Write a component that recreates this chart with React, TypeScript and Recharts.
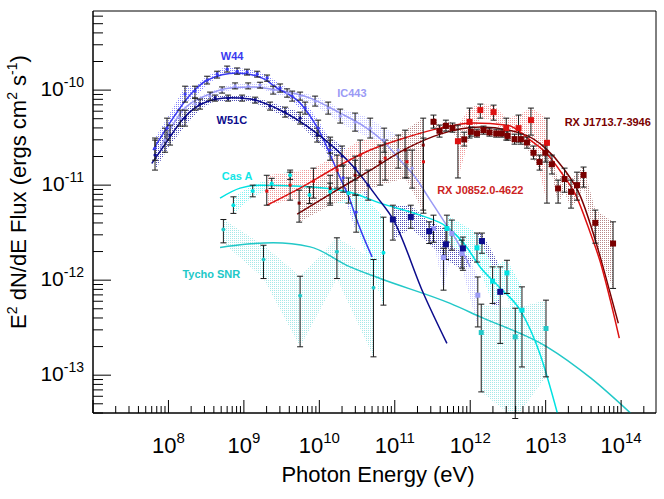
import React from "react";
import { ComposedChart, XAxis, YAxis, Line, Area, Scatter, ErrorBar, ReferenceDot, ReferenceArea, Label } from "recharts";

type Pt = [number, number, number, number]; // energy, flux, low, high
type Cv = [number, number]; // energy, flux

// ---- W44 ----
const W44_MODEL: Cv[] = [
  [6.25e7, 2.34e-11], [1.15e8, 5.07e-11], [1.93e8, 8.86e-11], [3.25e8, 1.27e-10], [8.13e8, 1.51e-10],
  [1.64e9, 1.37e-10], [2.76e9, 1.05e-10], [5.56e9, 7.3e-11], [1.03e10, 3.52e-11], [1.89e10, 1.19e-11],
  [2.56e10, 6.95e-12], [2.98e10, 4.83e-12], [5.01e10, 1.75e-12],
];
const W44_FERMI: Pt[] = [
  [6.64e7, 2.45e-11, 1.83e-11, 3.13e-11], [9.58e7, 3.98e-11, 2.98e-11, 5.07e-11], [1.66e8, 9.08e-11, 7.48e-11, 1.1e-10],
  [2.25e8, 9.76e-11, 8.24e-11, 1.1e-10], [3.25e8, 1.27e-10, 1.16e-10, 1.4e-10], [4.42e8, 1.47e-10, 1.34e-10, 1.58e-10],
  [5.99e8, 1.66e-10, 1.55e-10, 1.79e-10], [8.13e8, 1.58e-10, 1.47e-10, 1.71e-10], [1.1e9, 1.55e-10, 1.44e-10, 1.66e-10],
  [1.5e9, 1.47e-10, 1.37e-10, 1.58e-10], [2.03e9, 1.34e-10, 1.24e-10, 1.44e-10], [3.02e9, 1.05e-10, 9.53e-11, 1.16e-10],
  [4.36e9, 8.65e-11, 7.66e-11, 9.76e-11], [6.48e9, 6.47e-11, 5.59e-11, 7.48e-11], [9.64e9, 3.98e-11, 3.28e-11, 4.83e-11],
  [1.39e10, 2.34e-11, 1.83e-11, 2.98e-11], [2.07e10, 1.19e-11, 8.43e-12, 1.63e-11], [3.08e10, 5.2e-12, 3.2e-12, 7.85e-12],
];

// ---- W51C ----
const W51C_MODEL: Cv[] = [
  [6.01e7, 1.69e-11], [9.49e7, 2.86e-11], [1.58e8, 5.04e-11], [3.22e8, 7.53e-11], [6.56e8, 8.3e-11],
  [1.21e9, 8.04e-11], [2.73e9, 6.41e-11], [9.27e9, 3.5e-11], [2.83e10, 1.56e-11], [5.79e10, 7.53e-12],
  [9.62e10, 4.29e-12], [2.4e11, 7.24e-13], [4.91e11, 2.16e-13],
];
const W51C_FERMI: Pt[] = [
  [6.64e7, 2.07e-11, 1.44e-11, 2.98e-11], [1.05e8, 3.36e-11, 2.64e-11, 4.28e-11], [1.66e8, 5.07e-11, 4.18e-11, 6.16e-11],
  [2.62e8, 7.13e-11, 6.31e-11, 8.04e-11], [4.15e8, 8.3e-11, 7.66e-11, 8.86e-11], [6.17e8, 8.2e-11, 7.66e-11, 8.86e-11],
  [9.46e8, 8.3e-11, 7.66e-11, 8.86e-11], [1.41e9, 7.85e-11, 7.3e-11, 8.43e-11], [2.22e9, 6.79e-11, 6.16e-11, 7.48e-11],
  [3.52e9, 5.86e-11, 5.2e-11, 6.62e-11], [5.56e9, 5.07e-11, 4.39e-11, 5.86e-11], [9.35e9, 3.36e-11, 2.84e-11, 3.98e-11],
  [1.39e10, 2.64e-11, 2.17e-11, 3.2e-11], [2.0e10, 2.02e-11, 1.58e-11, 2.58e-11], [2.98e10, 1.51e-11, 1.13e-11, 2.02e-11],
  [4.44e10, 1.0e-11, 6.95e-12, 1.44e-11],
];
const W51C_TEV: Pt[] = [
  [9.44e10, 4.35e-12, 2.64e-12, 6.15e-12], [1.63e11, 4.63e-12, 3.52e-12, 6.15e-12], [2.86e11, 3.28e-12, 2.43e-12, 4.11e-12],
  [4.76e11, 2.38e-12, 1.65e-12, 3.52e-12], [8.0e11, 2.16e-12, 1.27e-12, 2.84e-12], [1.43e12, 2.58e-12, 1.92e-12, 3.13e-12],
  [2.5e12, 7.53e-13, 2.16e-13, 1.38e-12],
];

// ---- IC443 ----
const IC443_MODEL: Cv[] = [
  [7.74e7, 2.45e-11], [1.56e8, 6.16e-11], [3.25e8, 8.86e-11], [6.56e8, 1.05e-10], [1.33e9, 1.08e-10],
  [2.76e9, 1.0e-10], [7.55e9, 8.24e-11], [1.89e10, 5.73e-11], [4.05e10, 4.08e-11], [7.46e10, 2.77e-11],
  [1.18e11, 1.83e-11], [1.87e11, 1.21e-11], [2.95e11, 6.95e-12], [4.39e11, 4.29e-12], [6.93e11, 2.45e-12],
  [1.0e12, 1.37e-12],
];
const IC443_FERMI: Pt[] = [
  [9.02e7, 2.98e-11, 2.22e-11, 3.98e-11], [1.43e8, 5.07e-11, 4.18e-11, 6.16e-11], [2.25e8, 7.13e-11, 6.16e-11, 8.24e-11],
  [3.56e8, 8.65e-11, 7.85e-11, 9.53e-11], [5.14e8, 1.0e-10, 9.3e-11, 1.08e-10], [7.64e8, 1.1e-10, 1.03e-10, 1.19e-10],
  [1.14e9, 1.1e-10, 1.03e-10, 1.19e-10], [1.64e9, 1.13e-10, 1.05e-10, 1.21e-10], [2.44e9, 1.0e-10, 9.08e-11, 1.1e-10],
  [3.74e9, 9.3e-11, 8.43e-11, 1.03e-10], [5.56e9, 8.65e-11, 7.85e-11, 9.53e-11], [8.79e9, 7.66e-11, 6.79e-11, 8.65e-11],
  [1.31e10, 6.47e-11, 5.59e-11, 7.48e-11], [1.89e10, 5.32e-11, 4.5e-11, 6.31e-11], [2.98e10, 4.6e-11, 3.7e-11, 5.73e-11],
  [4.72e10, 3.98e-11, 3.13e-11, 5.07e-11], [7.23e10, 2.98e-11, 2.22e-11, 3.98e-11], [1.11e11, 2.34e-11, 1.51e-11, 3.36e-11],
  [1.7e11, 1.51e-11, 9.3e-12, 2.34e-11],
];
const IC443_TEV: Pt[] = [
  [3.26e11, 3.5e-12, 2.51e-12, 4.83e-12], [4.43e11, 1.73e-12, 7.85e-13, 2.17e-12], [5.71e11, 3.1e-12, 2.07e-12, 4.29e-12],
  [7.76e11, 1.91e-12, 1.34e-12, 2.64e-12], [1.26e12, 6.95e-13, 3.22e-13, 1.08e-12],
];

// ---- Cas A ----
const CASA_MODEL: Cv[] = [
  [4.83e8, 7.3e-12], [8.9e8, 9.3e-12], [1.64e9, 1.0e-11], [5.56e9, 9.76e-12], [2.56e10, 8.43e-12],
  [6.4e10, 6.47e-12], [2.17e11, 4.83e-12], [4.96e11, 3.61e-12], [8.6e11, 2.33e-12], [1.36e12, 1.37e-12],
  [2.5e12, 8.24e-13], [4.6e12, 4.83e-13], [8.5e12, 1.63e-13], [1.43e13, 3.98e-14],
];
const CASA_FERMI: Pt[] = [
  [7.26e8, 6.15e-12, 5.04e-12, 7.53e-12], [1.31e9, 8.7e-12, 7.53e-12, 1.0e-11], [2.34e9, 1.04e-11, 9.23e-12, 1.18e-11],
  [4.1e9, 1.27e-11, 1.15e-11, 1.44e-11], [7.4e9, 7.85e-12, 6.4e-12, 9.6e-12], [1.39e10, 8.5e-12, 6.47e-12, 1.05e-11],
  [2.43e10, 8.2e-12, 6.47e-12, 1.19e-11], [7.08e10, 1.94e-12, 5.46e-13, 4.6e-12],
];
const CASA_TEV: Pt[] = [
  [4.91e11, 3.5e-12, 2.51e-12, 4.83e-12], [1.23e12, 2.19e-12, 1.55e-12, 3.13e-12], [1.98e12, 9.75e-13, 5.69e-13, 1.38e-12],
  [3.07e12, 1.19e-12, 7.24e-13, 1.62e-12], [4.85e12, 4.83e-13, 1.22e-13, 8.5e-13],
];

// ---- Tycho SNR ----
const TYCHO_MODEL: Cv[] = [
  [4.83e8, 2.21e-12], [1.04e9, 2.39e-12], [2.44e9, 2.47e-12], [7.55e9, 2.24e-12], [2.56e10, 1.38e-12],
  [6.4e10, 1.04e-12], [5.43e11, 5.69e-13], [1.36e12, 4.11e-13], [1.04e13, 1.99e-13], [3.98e13, 9.3e-14],
  [1.35e14, 3.95e-14],
];
const TYCHO_FERMI: Pt[] = [
  [5.35e8, 3.42e-12, 2.47e-12, 4.35e-12], [1.82e9, 1.65e-12, 1.04e-12, 2.33e-12], [5.56e9, 6.84e-13, 1.99e-13, 1.1e-12],
  [1.71e10, 1.99e-12, 1.04e-12, 2.79e-12], [5.22e10, 8.3e-13, 1.56e-13, 1.65e-12],
];
const TYCHO_TEV: Pt[] = [
  [1.4e12, 2.81e-13, 6.67e-14, 5.59e-13], [3.95e12, 2.53e-13, 3.5e-14, 5.07e-13], [1.01e13, 3.1e-13, 9.6e-14, 6.16e-13],
];

// ---- RX J0852.0-4622 ----
const RXJ0852_MODEL: Cv[] = [
  [2.03e9, 6.15e-12], [5.56e9, 9.3e-12], [1.89e10, 1.63e-11], [4.72e10, 2.34e-11], [1.46e11, 3.2e-11],
  [4.0e11, 3.98e-11], [1.1e12, 4.5e-11], [3.1e12, 4.28e-11], [6.25e12, 2.98e-11], [9.9e12, 2.22e-11],
  [1.71e13, 1.27e-11], [2.47e13, 8.04e-12], [3.91e13, 3.13e-12], [5.3e13, 1.55e-12], [7.19e13, 6.16e-13],
  [9.46e13, 2.45e-13],
];
const RXJ0852_FERMI: Pt[] = [
  [2.01e9, 8.65e-12, 6.15e-12, 1.27e-11], [4.1e9, 1.0e-11, 6.95e-12, 1.37e-11], [8.35e9, 1.1e-11, 7.3e-12, 1.51e-11],
  [1.72e10, 1.44e-11, 9.3e-12, 2.07e-11], [3.48e10, 2.07e-11, 1.27e-11, 2.98e-11], [7.46e10, 1.92e-11, 1.13e-11, 2.98e-11],
  [1.45e11, 1.76e-11, 1.19e-11, 2.34e-11], [2.4e11, 1.76e-11, 5.07e-12, 3.13e-11],
];
const RXJ0852_HESS: Pt[] = [
  [6.87e11, 2.9e-11, 1.19e-11, 4.28e-11], [9.8e11, 4.63e-11, 3.13e-11, 6.47e-11], [1.36e12, 6.16e-11, 5.07e-11, 7.13e-11],
  [2.04e12, 5.86e-11, 4.83e-11, 6.95e-11], [3.0e12, 3.98e-11, 2.98e-11, 5.07e-11], [4.37e12, 3.98e-11, 2.84e-11, 5.46e-11],
  [6.38e12, 4.83e-11, 3.36e-11, 6.47e-11], [1.04e13, 2.79e-11, 6.47e-12, 5.07e-11],
];

// ---- RX J1713.7-3946 ----
const RXJ1713_MODEL: Cv[] = [
  [5.08e9, 4.95e-12], [1.39e10, 8.04e-12], [4.31e10, 1.37e-11], [1.46e11, 2.45e-11], [4.0e11, 3.44e-11],
  [1.36e12, 4.08e-11], [5.05e12, 3.44e-11], [9.9e12, 2.45e-11], [1.71e13, 1.51e-11], [2.88e13, 7.66e-12],
  [4.55e13, 2.64e-12], [6.17e13, 1.13e-12], [9.18e13, 3.52e-13],
];
const RXJ1713_FERMI: Pt[] = [
  [5.4e9, 6.47e-12, 4.08e-12, 8.86e-12], [1.39e10, 9.3e-12, 6.15e-12, 1.27e-11], [2.98e10, 1.27e-11, 7.85e-12, 1.83e-11],
  [6.4e10, 1.75e-11, 1.0e-11, 2.64e-11], [1.37e11, 2.34e-11, 1.19e-11, 3.79e-11], [2.38e11, 2.64e-11, 5.46e-12, 5.07e-11],
];
const RXJ1713_HESS: Pt[] = [
  [3.26e11, 4.64e-11, 3.98e-11, 5.46e-11], [3.92e11, 3.73e-11, 3.2e-11, 4.28e-11], [4.76e11, 4.2e-11, 3.7e-11, 4.83e-11],
  [5.82e11, 4.01e-11, 3.61e-11, 4.5e-11], [8.32e11, 3.03e-11, 2.58e-11, 3.61e-11], [1.02e12, 3.64e-11, 3.28e-11, 4.08e-11],
  [1.23e12, 3.5e-11, 3.2e-11, 3.88e-11], [1.5e12, 3.79e-11, 3.44e-11, 4.18e-11], [1.8e12, 3.59e-11, 3.28e-11, 3.98e-11],
  [2.21e12, 3.5e-11, 3.2e-11, 3.88e-11], [2.63e12, 3.5e-11, 3.2e-11, 3.88e-11], [3.13e12, 3.3e-11, 2.98e-11, 3.7e-11],
  [3.87e12, 3.05e-11, 2.7e-11, 3.44e-11], [4.7e12, 3.05e-11, 2.7e-11, 3.44e-11], [5.65e12, 2.81e-11, 2.45e-11, 3.2e-11],
  [6.9e12, 2.19e-11, 1.88e-11, 2.58e-11], [8.3e12, 1.75e-11, 1.44e-11, 2.07e-11], [9.9e12, 2.19e-11, 1.75e-11, 2.64e-11],
  [1.21e13, 1.66e-11, 1.31e-11, 2.07e-11], [1.46e13, 9.23e-12, 6.47e-12, 1.13e-11], [1.78e13, 1.16e-11, 8.43e-12, 1.51e-11],
  [2.17e13, 8.5e-12, 5.73e-12, 1.13e-11], [2.6e13, 1.0e-11, 6.95e-12, 1.37e-11], [3.18e13, 1.28e-11, 9.53e-12, 1.55e-11],
  [4.55e13, 4.01e-12, 2.45e-12, 5.46e-12], [7.82e13, 2.43e-12, 8.18e-13, 4.11e-12],
];

// source name tags, anchored in data coordinates
const TAG_TEXT = ["W44", "W51C", "IC443", "Cas A", "Tycho SNR", "RX J0852.0-4622", "RX J1713.7-3946"];
const TAG_E = [6.97e8, 6.92e8, 2.7e10, 8.13e8, 3.7e8, 1.36e12, 6.65e13];
const TAG_F = [2.28e-10, 4.83e-11, 9.2e-11, 1.24e-11, 1.16e-12, 8.97e-12, 4.6e-11];

const X_DOMAIN: [number, number] = [1e7, 2.9e14];
const Y_DOMAIN: [number, number] = [4e-14, 6.8e-10];
const FONT = "'Liberation Sans', Arial, Helvetica, sans-serif";

const C = {
  w44: "#3a3af0", w44Band: "#8484ff",
  w51c: "#0c0c8c", w51cBand: "#5050b8",
  ic443: "#9a9af5", ic443Band: "#c6c6ff",
  casa: "#00e2e2", casaBand: "#80f2f2",
  tycho: "#22c8c8", tychoBand: "#a6e8e8",
  rx0852: "#dd1111", rx0852Band: "#f09a9a",
  rx1713: "#7a0000", rx1713Band: "#b88888",
};
const TAG_COLOR = [C.w44, C.w51c, C.ic443, "#11e6e6", C.tycho, "#cc2222", C.rx1713];

const toPts = (rows: Pt[]) => rows.map(([e, f, lo, hi]) => ({ e, f, err: [f - lo, hi - f], band: [lo, hi] }));
const toCurve = (rows: Cv[]) => rows.map(([e, f]) => ({ e, f }));

const decadeTicks = (lo: number, hi: number, n0: number, n1: number) => {
  const out: number[] = [];
  for (let n = n0; n <= n1; n++) for (let k = 1; k < 10; k++) {
    const v = k * Math.pow(10, n);
    if (v >= lo * 0.999 && v <= hi * 1.001) out.push(v);
  }
  return out;
};
const X_TICKS = decadeTicks(X_DOMAIN[0], X_DOMAIN[1], 7, 14);
const Y_TICKS = decadeTicks(Y_DOMAIN[0], Y_DOMAIN[1], -14, -10);

const majorExp = (v: number) => {
  const exp = Math.round(Math.log10(v));
  return Math.abs(v / Math.pow(10, exp) - 1) < 1e-6 ? exp : null;
};

const XTick = (props: any) => {
  const { x, y, payload } = props;
  const exp = majorExp(payload.value);
  return (
    <g>
      <line x1={x} y1={y} x2={x} y2={y - (exp !== null ? 13 : 7)} stroke="#000" />
      {exp !== null && exp >= 8 && (
        <text x={x} y={y + 40} textAnchor="middle" fontSize={22} fontFamily={FONT} fill="#000">
          10<tspan dy={-10} fontSize={15}>{exp}</tspan>
        </text>
      )}
    </g>
  );
};

const YTick = (props: any) => {
  const { x, y, payload } = props;
  const exp = majorExp(payload.value);
  return (
    <g>
      <line x1={x} y1={y} x2={x + (exp !== null ? 18 : 10)} y2={y} stroke="#000" />
      {exp !== null && (
        <text x={x - 9} y={y + 6} textAnchor="end" fontSize={21} fontFamily={FONT} fill="#000">
          10<tspan dy={-9} fontSize={14}>{exp}</tspan>
        </text>
      )}
    </g>
  );
};

const square = (size: number, color: string) => (p: any) =>
  <rect x={p.cx - size / 2} y={p.cy - size / 2} width={size} height={size} fill={color} />;
const dot = (r: number, color: string) => (p: any) => <circle cx={p.cx} cy={p.cy} r={r} fill={color} />;

const dotPattern = (id: string, color: string) => (
  <pattern id={id} width={2} height={2} patternUnits="userSpaceOnUse">
    <rect width={1} height={1} fill={color} />
  </pattern>
);

type Group = { rows: Pt[]; band: string; shape: (p: any) => React.ReactElement };
const GROUPS: Group[] = [
  { rows: W44_FERMI, band: "pW44", shape: dot(1.6, C.w44) },
  { rows: IC443_FERMI, band: "pIC", shape: dot(1.6, C.ic443) },
  { rows: W51C_FERMI, band: "pW51", shape: dot(1.6, C.w51c) },
  { rows: IC443_TEV, band: "pIC", shape: square(5, C.ic443) },
  { rows: W51C_TEV, band: "pW51", shape: square(6, C.w51c) },
  { rows: TYCHO_FERMI, band: "pTy", shape: dot(2, C.tycho) },
  { rows: TYCHO_TEV, band: "pTy", shape: square(5, C.tycho) },
  { rows: CASA_FERMI, band: "pCas", shape: dot(2, C.casa) },
  { rows: CASA_TEV, band: "pCas", shape: square(5, C.casa) },
  { rows: RXJ0852_FERMI, band: "pR08", shape: square(3, C.rx0852) },
  { rows: RXJ1713_FERMI, band: "pR17", shape: square(3, C.rx1713) },
  { rows: RXJ0852_HESS, band: "pR08", shape: square(6, C.rx0852) },
  { rows: RXJ1713_HESS, band: "pR17", shape: square(6, C.rx1713) },
];

const CURVES: { rows: Cv[]; color: string }[] = [
  { rows: TYCHO_MODEL, color: C.tycho },
  { rows: CASA_MODEL, color: C.casa },
  { rows: IC443_MODEL, color: C.ic443 },
  { rows: W44_MODEL, color: C.w44 },
  { rows: W51C_MODEL, color: C.w51c },
  { rows: RXJ1713_MODEL, color: C.rx1713 },
  { rows: RXJ0852_MODEL, color: C.rx0852 },
];

export default function App() {
  return (
    <div style={{ position: "absolute", left: 0, top: 0, width: 664, height: 499, background: "#fff" }}>
      <ComposedChart width={664} height={499} margin={{ top: 11, right: 8, bottom: 0, left: 0 }}>
        <defs>
          {dotPattern("pW44", C.w44Band)}
          {dotPattern("pW51", C.w51cBand)}
          {dotPattern("pIC", C.ic443Band)}
          {dotPattern("pCas", C.casaBand)}
          {dotPattern("pTy", C.tychoBand)}
          {dotPattern("pR08", C.rx0852Band)}
          {dotPattern("pR17", C.rx1713Band)}
        </defs>
        <XAxis
          dataKey="e" type="number" scale="log" domain={X_DOMAIN} allowDataOverflow
          ticks={X_TICKS} interval={0} tick={<XTick />} tickLine={false} tickSize={0} tickMargin={0}
          height={86} axisLine={{ stroke: "#000" }}
        >
          <Label
            content={(p: any) => (
              <text x={p.viewBox.x + 285} y={p.viewBox.y + 69} textAnchor="middle" fontSize={22} fontFamily={FONT} fill="#000">
                Photon Energy (eV)
              </text>
            )}
          />
        </XAxis>
        <YAxis
          type="number" scale="log" domain={Y_DOMAIN} allowDataOverflow
          ticks={Y_TICKS} interval={0} tick={<YTick />} tickLine={false} tickSize={0} tickMargin={0}
          width={93} axisLine={{ stroke: "#000" }}
        >
          <Label
            content={(p: any) => (
              <text transform={`translate(26, ${p.viewBox.y + 181}) rotate(-90)`} textAnchor="middle" fontSize={22} fontFamily={FONT} fill="#000">
                E<tspan dy={-9} fontSize={14}>2</tspan><tspan dy={9}> dN/dE Flux (ergs cm</tspan>
                <tspan dy={-9} fontSize={14}>2</tspan><tspan dy={9}> s</tspan>
                <tspan dy={-9} fontSize={14}>-1</tspan><tspan dy={9}>)</tspan>
              </text>
            )}
          />
        </YAxis>

        {GROUPS.map((g, i) => (
          <Area
            key={`band-${i}`} data={toPts(g.rows)} dataKey="band" type="linear"
            fill={`url(#${g.band})`} fillOpacity={1} stroke="none" isAnimationActive={false} activeDot={false}
          />
        ))}

        {CURVES.map((c, i) => (
          <Line
            key={`curve-${i}`} data={toCurve(c.rows)} dataKey="f" type="monotone"
            stroke={c.color} strokeWidth={1.5} dot={false} activeDot={false} isAnimationActive={false}
          />
        ))}

        {GROUPS.map((g, i) => (
          <Scatter key={`pts-${i}`} data={toPts(g.rows)} dataKey="f" shape={g.shape} isAnimationActive={false}>
            <ErrorBar dataKey="err" direction="y" stroke="#1a1a1a" strokeWidth={1} width={3} />
          </Scatter>
        ))}

        {TAG_TEXT.map((t, i) => (
          <ReferenceDot
            key={t} x={TAG_E[i]} y={TAG_F[i]} r={0} fill="none" stroke="none" ifOverflow="visible"
            label={{ value: t, position: "center", fill: TAG_COLOR[i], fontSize: 11, fontWeight: "bold", fontFamily: FONT }}
          />
        ))}

        <ReferenceArea
          x1={X_DOMAIN[0]} x2={X_DOMAIN[1]} y1={Y_DOMAIN[0]} y2={Y_DOMAIN[1]}
          fill="none" stroke="#000" strokeWidth={1} ifOverflow="visible"
        />
      </ComposedChart>
    </div>
  );
}
